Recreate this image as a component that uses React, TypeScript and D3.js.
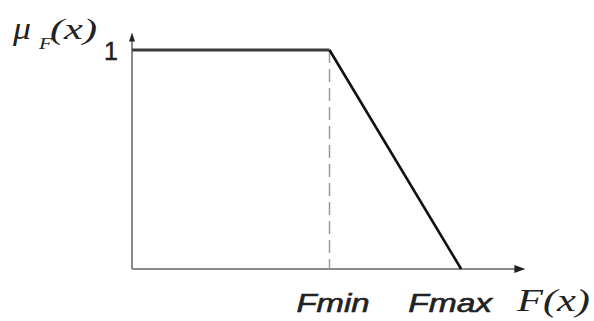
import React from "react";
import * as d3 from "d3";

// Membership function breakpoints (normalised F(x) values)
const fMin = 0.6;
const fMax = 1.0;
const xAxisEnd = 1.195;
const yAxisEnd = 1.08;

// Piecewise membership curve: 1 up to Fmin, then linear down to 0 at Fmax
const curveX = [0, fMin, fMax];
const curveY = [1, 1, 0];

const tickLabels = ["Fmin", "Fmax"];
const tickValues = [fMin, fMax];

export default function App() {
  const width = 594;
  const height = 321;

  const x = d3.scaleLinear().domain([0, 1.2]).range([132, 527]);
  const y = d3.scaleLinear().domain([0, 1]).range([269, 50]);

  const pts = curveX.map((v, i) => [v, curveY[i]] as [number, number]);
  const line = d3
    .line<[number, number]>()
    .x((d) => x(d[0]))
    .y((d) => y(d[1]));

  const flat = line(pts.slice(0, 2)) || "";
  const slope = line(pts.slice(1)) || "";

  const x0 = x(0);
  const y0 = y(0);
  const yTop = y(yAxisEnd);
  const xEnd = x(xAxisEnd);

  const sans = "Liberation Sans, Arial, sans-serif";
  const serif = "Liberation Serif, Times New Roman, serif";

  // label box widths (the labels are drawn horizontally stretched)
  const tickWidths = [73, 84];
  const tickOffsets = [-33, -53];

  return (
    <svg
      width={width}
      height={height}
      style={{ position: "absolute", left: 0, top: 0, background: "#fff" }}
    >
      {/* axes */}
      <line x1={x0} y1={y0} x2={x0} y2={yTop + 6} stroke="#8a8a8a" strokeWidth={2} />
      <line x1={x0} y1={y0} x2={xEnd - 8} y2={y0} stroke="#8a8a8a" strokeWidth={2} />
      <path
        d={`M${x0},${yTop} L${x0 - 3},${yTop + 9} L${x0 + 3},${yTop + 9} Z`}
        fill="#222"
      />
      <path
        d={`M${xEnd},${y0} L${xEnd - 11},${y0 - 4} L${xEnd - 11},${y0 + 4} Z`}
        fill="#222"
      />

      {/* guide at Fmin */}
      <line
        x1={x(fMin)}
        y1={y(1)}
        x2={x(fMin)}
        y2={y0}
        stroke="#9a9a9a"
        strokeWidth={1.5}
        strokeDasharray="13,6"
      />

      {/* membership curve */}
      <path d={flat} fill="none" stroke="#3a3a3a" strokeWidth={3.2} />
      <path d={slope} fill="none" stroke="#111" strokeWidth={2.6} />

      {/* y tick label */}
      <text
        x={118}
        y={60}
        fontFamily={sans}
        fontSize={25}
        textAnchor="end"
        fill="#222"
        stroke="#222"
        strokeWidth={0.5}
      >
        1
      </text>

      {/* x tick labels */}
      {tickLabels.map((t, i) => (
        <text
          key={t}
          x={x(tickValues[i]) + tickOffsets[i]}
          y={312}
          fontFamily={sans}
          fontStyle="italic"
          fontSize={26}
          fill="#222"
          stroke="#222"
          strokeWidth={0.6}
          textLength={tickWidths[i]}
          lengthAdjust="spacingAndGlyphs"
        >
          {t}
        </text>
      ))}

      {/* axis titles */}
      <text
        x={517}
        y={311}
        fontFamily={serif}
        fontStyle="italic"
        fontSize={32}
        fill="#222"
        textLength={73}
        lengthAdjust="spacingAndGlyphs"
      >
        F(x)
      </text>

      <text
        x={13}
        y={39}
        fontFamily={serif}
        fontStyle="italic"
        fontSize={32}
        fill="#222"
        textLength={18}
        lengthAdjust="spacingAndGlyphs"
      >
        μ
      </text>
      <text
        x={39}
        y={49}
        fontFamily={serif}
        fontStyle="italic"
        fontSize={17}
        fill="#222"
        textLength={13}
        lengthAdjust="spacingAndGlyphs"
      >
        F
      </text>
      <text
        x={50}
        y={39}
        fontFamily={serif}
        fontStyle="italic"
        fontSize={29}
        fill="#222"
        textLength={47}
        lengthAdjust="spacingAndGlyphs"
      >
        (x)
      </text>
    </svg>
  );
}
